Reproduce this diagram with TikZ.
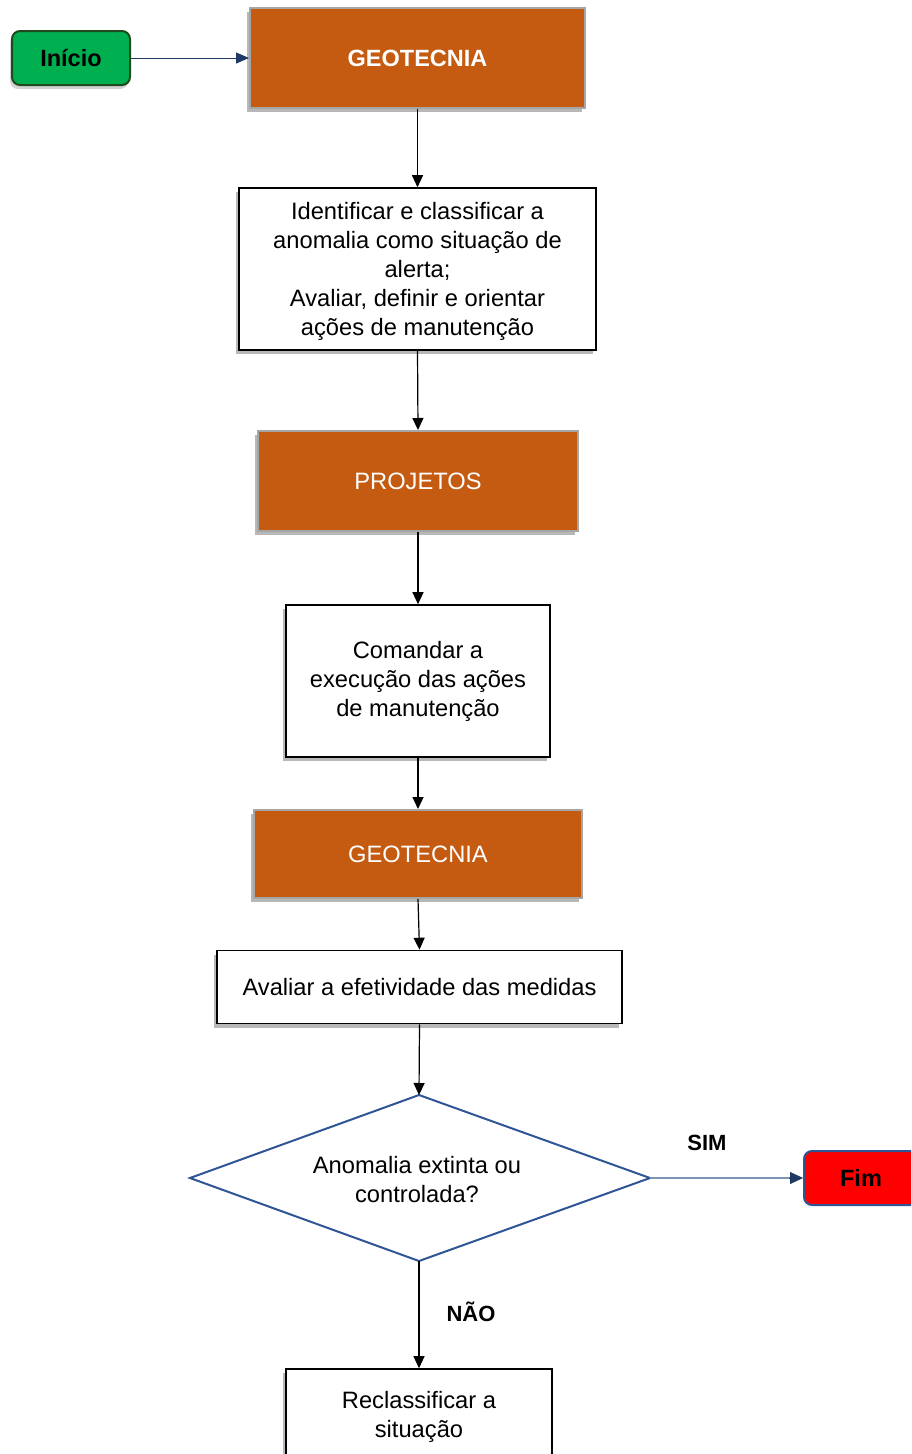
\documentclass[tikz,border=0pt]{standalone}
\usepackage{fontspec}
\setmainfont{Liberation Sans}
\usetikzlibrary{arrows.meta,shapes.geometric,shadows}
\definecolor{rust}{HTML}{C55A11}
\definecolor{rustedge}{HTML}{A6A6A6}
\definecolor{startgreen}{HTML}{00B050}
\definecolor{startedge}{HTML}{1E4A1E}
\definecolor{navy}{HTML}{1F3864}
\definecolor{steel}{HTML}{2F5597}
\definecolor{paleline}{HTML}{7F95B5}
\tikzset{
  lbl/.style={font=\fontsize{23.7}{29}\selectfont, align=center},
  darkshadow/.style={drop shadow={shadow xshift=-3pt, shadow yshift=-4pt, fill=black, opacity=0.28}},
  rolebox/.style={lbl, draw=rustedge, line width=2pt, fill=rust, text=white,
    inner sep=0pt, darkshadow},
  taskbox/.style={lbl, draw=black, line width=1.6pt, fill=white, inner sep=0pt, darkshadow},
  terminal/.style={lbl, rounded corners=8pt, line width=2pt, inner sep=0pt, font=\fontsize{23.5}{29}\selectfont\bfseries},
  flow/.style={-{Triangle[length=12pt,width=11pt]}, line width=1.2pt, black},
  tag/.style={font=\fontsize{22}{26}\selectfont\bfseries}
}
\begin{document}
\begin{tikzpicture}[x=1pt, y=-1pt]
\useasboundingbox (0,0) rectangle (911,1454);
\clip (0,0) rectangle (911,1454);

% start terminal and first role
\node[terminal, draw=startedge, fill=startgreen, minimum width=118pt, minimum height=54pt,
  drop shadow={shadow xshift=-2pt, shadow yshift=-4pt, opacity=0.35}] (start) at (71,58) {Início};
\node[rolebox, minimum width=335pt, minimum height=100pt, font=\fontsize{23.5}{29}\selectfont\bfseries] (geo1) at (417.5,58) {GEOTECNIA};

% steps
\node[taskbox, minimum width=357pt, minimum height=162pt] (ident) at (417.5,269)
  {}; 
\node[lbl] (identtext) at (417.5,271)
  {Identificar e classificar a\\anomalia como situação de\\alerta;\\Avaliar, definir e orientar\\ações de manutenção};
\node[rolebox, minimum width=320pt, minimum height=100pt] (proj) at (418,481) {PROJETOS};
\node[taskbox, minimum width=264pt, minimum height=152pt] (cmd) at (418,681)
  {Comandar a\\execução das ações\\de manutenção};
\node[rolebox, minimum width=328pt, minimum height=88pt] (geo2) at (418,854) {GEOTECNIA};
\node[taskbox, minimum width=405pt, minimum height=73pt] (eval) at (419.5,987)
  {Avaliar a efetividade das medidas};

% decision
\coordinate (dT) at (419,1095);
\coordinate (dR) at (650,1178);
\coordinate (dB) at (419,1261);
\coordinate (dL) at (190,1178);
\draw[steel, line width=2pt, fill=white] (dT) -- (dR) -- (dB) -- (dL) -- cycle;
\node[lbl] (q) at (417,1180) {Anomalia extinta ou\\controlada?};

% outcomes
\node[terminal, draw=steel, fill=red, minimum width=114pt, minimum height=54pt] (fim) at (861,1178) {Fim};
\node[taskbox, minimum width=266pt, minimum height=96pt] (recl) at (419,1417)
  {Reclassificar a\\situação};

% connectors
\draw[navy, line width=1pt, -{Triangle[length=13pt,width=11pt]}] (start.east) -- (geo1.west);
\draw[flow] (geo1.south) -- (ident.north);
\draw[flow] (ident.south) -- (proj.north);
\draw[flow] (proj.south) -- (cmd.north);
\draw[flow] (cmd.south) -- (geo2.north);
\draw[flow] (geo2.south) -- (eval.north);
\draw[flow] (eval.south) -- (dT);
\draw[paleline, line width=1.2pt] (dR) -- ([xshift=-13pt]fim.west);
\draw[navy, -{Triangle[length=13pt,width=12pt]}] ([xshift=-14pt]fim.west) -- (fim.west);
\draw[flow] (dB) -- (recl.north);

\node[tag] (sim) at (707,1143) {SIM};
\node[tag] (nao) at (471,1312) {NÃO};
\end{tikzpicture}
\end{document}
